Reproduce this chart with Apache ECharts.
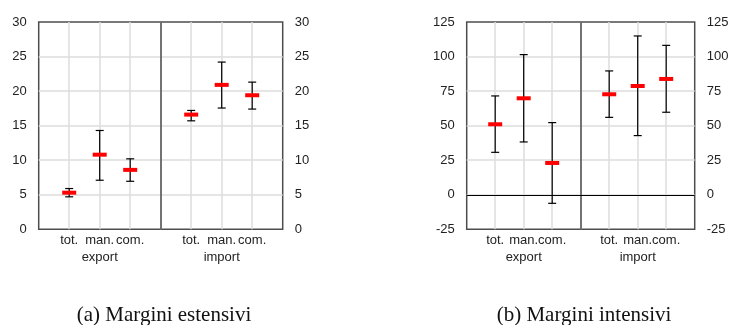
<!DOCTYPE html>
<html><head><meta charset="utf-8">
<script src="https://cdn.jsdelivr.net/npm/echarts@6/dist/echarts.min.js"></script>
<style>html,body{margin:0;padding:0;background:#fff}#c{width:730px;height:325px}</style>
</head><body><div id="c"></div>
<script>
// ---- data ----
const catLabels = ['tot.', 'man.', 'com.'];
const groups = ['export', 'import'];
// (a) Margini estensivi
const extMean = [5.3, 10.8, 8.6, 16.6, 20.9, 19.4];
const extLow  = [4.7, 7.1, 6.95, 15.7, 17.55, 17.4];
const extHigh = [5.9, 14.3, 10.2, 17.2, 24.2, 21.3];
const extTicks = [0, 5, 10, 15, 20, 25, 30];
// (b) Margini intensivi
const intMean = [51.0, 69.8, 23.0, 72.7, 78.7, 83.8];
const intLow  = [30.7, 38.2, -6.2, 56.0, 42.8, 59.7];
const intHigh = [71.5, 101.4, 52.2, 89.6, 114.9, 108.1];
const intTicks = [-25, 0, 25, 50, 75, 100, 125];
const captions = ['(a) Margini estensivi', '(b) Margini intensivi'];

// ---- build ----
const slot = catLabels.length + 1;
const xMax = groups.length * slot;
function pts(mean, low, high) {
  return mean.map((m, k) => {
    const g = Math.floor(k / catLabels.length), i = k % catLabels.length;
    return [g * slot + i + 1, m, low[k], high[k]];
  });
}
function catFmt(v) {
  const k = Math.round(v), s = k % slot;
  return s === 0 ? '' : catLabels[s - 1];
}
function grpFmt(v) {
  const k = Math.round(v), s = k % slot;
  return s === Math.ceil(catLabels.length / 2) ? groups[Math.floor(k / slot)] : '';
}
const grids = [
  {left: 38.7, top: 22, width: 244, height: 207.3},
  {left: 466.7, top: 22, width: 228, height: 207.3}
];
const panels = [
  {data: pts(extMean, extLow, extHigh), ticks: extTicks, zero: false},
  {data: pts(intMean, intLow, intHigh), ticks: intTicks, zero: true}
];
const axisLabelStyle = {color: '#222', fontSize: 13, fontFamily: 'Liberation Sans, Arial, sans-serif'};
const gridLine = {color: '#dcdcdc', width: 1.5};
const xAxis = [], yAxis = [], series = [];
panels.forEach((p, gi) => {
  const t = p.ticks;
  xAxis.push({
    type: 'value', gridIndex: gi, min: 0, max: xMax, interval: 1,
    axisLine: {show: false}, axisTick: {show: false},
    splitLine: {show: true, showMinLine: false, showMaxLine: false, lineStyle: gridLine},
    axisLabel: Object.assign({margin: 5, formatter: catFmt, hideOverlap: false}, axisLabelStyle)
  });
  xAxis.push({
    type: 'value', gridIndex: gi, min: 0, max: xMax, interval: 1, position: 'bottom', offset: 17,
    axisLine: {show: false}, axisTick: {show: false}, splitLine: {show: false},
    axisLabel: Object.assign({margin: 5, formatter: grpFmt}, axisLabelStyle)
  });
  const yBase = {
    type: 'value', gridIndex: gi, min: t[0], max: t[t.length - 1], interval: t[1] - t[0],
    axisLine: {show: false}, axisTick: {show: false},
    axisLabel: Object.assign({margin: 12}, axisLabelStyle)
  };
  yAxis.push(Object.assign({}, yBase, {position: 'left',
    splitLine: {show: true, showMinLine: false, showMaxLine: false, lineStyle: gridLine}}));
  yAxis.push(Object.assign({}, yBase, {position: 'right', splitLine: {show: false}}));
  const markData = [{xAxis: catLabels.length + 1, lineStyle: {color: '#4d4d4d', width: 1.5, type: 'solid'}}];
  if (p.zero) markData.push({yAxis: 0, lineStyle: {color: '#000', width: 1, type: 'solid'}});
  series.push({
    type: 'custom', xAxisIndex: gi * 2, yAxisIndex: gi * 2,
    data: p.data, z: 5,
    renderItem: function (params, api) {
      const x = api.value(0);
      const pm = api.coord([x, api.value(1)]);
      const pl = api.coord([x, api.value(2)]);
      const ph = api.coord([x, api.value(3)]);
      const cap = 4, bw = 14, bh = 4;
      const ls = {stroke: '#000', lineWidth: 1.2};
      return {type: 'group', children: [
        {type: 'line', shape: {x1: pm[0], y1: ph[1], x2: pm[0], y2: pl[1]}, style: ls},
        {type: 'line', shape: {x1: pm[0] - cap, y1: ph[1], x2: pm[0] + cap, y2: ph[1]}, style: ls},
        {type: 'line', shape: {x1: pm[0] - cap, y1: pl[1], x2: pm[0] + cap, y2: pl[1]}, style: ls},
        {type: 'rect', shape: {x: pm[0] - bw / 2, y: pm[1] - bh / 2, width: bw, height: bh}, style: {fill: '#ff0000'}}
      ]};
    },
    markLine: {silent: true, symbol: 'none', label: {show: false}, animation: false, data: markData}
  });
});
const chart = echarts.init(document.getElementById('c'), null, {renderer: 'canvas'});
chart.setOption({
  animation: false,
  backgroundColor: '#fff',
  grid: grids.map(g => Object.assign({show: true, borderColor: '#4d4d4d', borderWidth: 1.5, backgroundColor: 'transparent', containLabel: false, outerBoundsMode: 'none'}, g)),
  xAxis: xAxis, yAxis: yAxis, series: series,
  graphic: captions.map((c, i) => ({
    type: 'text', x: [164, 584][i], y: 315,
    style: {text: c, fill: '#111', font: '21px "Liberation Serif", "Times New Roman", serif', textAlign: 'center', textVerticalAlign: 'middle'}
  }))
});
</script></body></html>
